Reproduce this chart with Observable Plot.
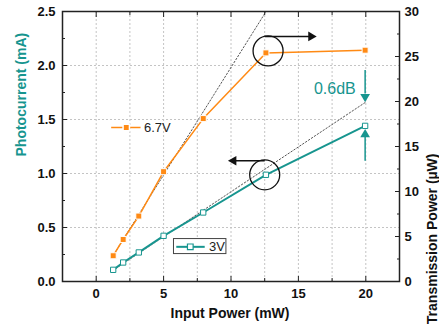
<!DOCTYPE html>
<html>
<head>
<meta charset="utf-8">
<script src="https://cdn.jsdelivr.net/npm/d3@7"></script>
<script src="https://cdn.jsdelivr.net/npm/@observablehq/plot@0.6"></script>
<style>
  html, body { margin: 0; padding: 0; background: #fff; }
  #chart { width: 439px; height: 331px; }
</style>
</head>
<body>
<div id="chart"></div>
<script>
// ---- data ----
const inputPower = [1.26, 2.0, 3.16, 5.0, 7.94, 12.59, 19.95];          // mW
const photocurrent3V = [0.108, 0.176, 0.269, 0.423, 0.639, 0.988, 1.441]; // mA (left axis)
const transmission67V = [2.86, 4.67, 7.27, 12.2, 18.1, 25.4, 25.7];       // µW (right axis)

// dotted linear-fit guides (end points)
const fit3V_x = [1.26, 19.95];
const fit3V_mA = [0.105, 1.657];
const fit67V_x = [1.26, 12.6];
const fit67V_uW = [2.9, 30];

// axes
const xMajor = [0, 5, 10, 15, 20];
const xMinor = [2.5, 7.5, 12.5, 17.5];
const xGrid = [0, 2.5, 5, 7.5, 10, 12.5, 15, 17.5, 20];
const yLeftMajor = [0, 0.5, 1.0, 1.5, 2.0, 2.5];
const yLeftMinor = [0.25, 0.75, 1.25, 1.75, 2.25];
const yGrid = [0.5, 1.0, 1.5, 2.0];
const yRightMajor = [0, 5, 10, 15, 20, 25, 30];
const yRightMinor = [2.5, 7.5, 12.5, 17.5, 22.5, 27.5];
const uWperMA = 12; // 30 µW on the right axis ↔ 2.5 mA on the left axis

// annotations
const circles = [{x: 12.75, y: 2.135}, {x: 12.5, y: 0.988}];
const arrowLines = [
  {x1: 12.5, y1: 2.269, x2: 15.8, y2: 2.269, c: "black"},
  {x1: 12.5, y1: 1.118, x2: 10.3, y2: 1.118, c: "black"},
  {x1: 19.95, y1: 1.958, x2: 19.95, y2: 1.74, c: "teal"},
  {x1: 19.95, y1: 1.118, x2: 19.95, y2: 1.34, c: "teal"}
];
const arrowHeads = [
  {x: 15.94, y: 2.269, rot: 90, c: "black"},
  {x: 10.19, y: 1.118, rot: -90, c: "black"},
  {x: 19.95, y: 1.711, rot: 180, c: "teal"},
  {x: 19.95, y: 1.361, rot: 0, c: "teal"}
];
const dbLabel = [{x: 17.7, y: 1.781, text: "0.6dB"}];
const legend67 = {x1: 1.11, x2: 3.29, xm: 2.23, y: 1.426, tx: 3.54, text: "6.7V"};
const legend3 = {x1: 5.94, x2: 8.05, xm: 6.98, y: 0.321, tx: 8.37, text: "3V",
                 bx1: 5.77, bx2: 9.66, by1: 0.254, by2: 0.393};

const ORANGE = "#ff8a14";
const TEAL = "#17958f";
const colorOf = c => c === "teal" ? TEAL : "#111";

const s67 = inputPower.map((x, i) => ({x, uW: transmission67V[i]}));
const s3 = inputPower.map((x, i) => ({x, mA: photocurrent3V[i]}));
const f3 = fit3V_x.map((x, i) => ({x, mA: fit3V_mA[i]}));
const f67 = fit67V_x.map((x, i) => ({x, uW: fit67V_uW[i]}));

const bold = {fontSize: 13, fontWeight: "bold", fill: "#111"};

const chart = Plot.plot({
  width: 439,
  height: 331,
  marginLeft: 62,
  marginRight: 40,
  marginTop: 11,
  marginBottom: 50,
  x: {domain: [-2.5, 22.5]},
  y: {domain: [0, 2.5]},
  style: {fontFamily: "'Liberation Sans', Arial, sans-serif", background: "white", color: "#111"},
  marks: [
    Plot.gridX(xGrid, {stroke: "#c4c4c4", strokeOpacity: 1, strokeDasharray: "2,2"}),
    Plot.gridY(yGrid, {stroke: "#c4c4c4", strokeOpacity: 1, strokeDasharray: "2,2"}),

    // fit guides
    Plot.line(f3, {x: "x", y: "mA", stroke: "#555", strokeDasharray: "1.5,2", strokeWidth: 1}),
    Plot.line(f67, {x: "x", y: d => d.uW / uWperMA, stroke: "#555", strokeDasharray: "1.5,2", strokeWidth: 1}),

    // series
    Plot.line(s67, {x: "x", y: d => d.uW / uWperMA, stroke: ORANGE, strokeWidth: 1.5}),
    Plot.line(s3, {x: "x", y: "mA", stroke: TEAL, strokeWidth: 2}),
    Plot.dot(s67, {x: "x", y: d => d.uW / uWperMA, symbol: "square", r: 3.4, fill: ORANGE, stroke: "white", strokeWidth: 1}),
    Plot.dot(s3, {x: "x", y: "mA", symbol: "square", r: 3, fill: "white", stroke: TEAL, strokeWidth: 1}),

    // circles and arrows
    Plot.dot(circles, {x: "x", y: "y", r: 15, fill: "none", stroke: "#111", strokeWidth: 1.3}),
    Plot.link(arrowLines, {x1: "x1", y1: "y1", x2: "x2", y2: "y2", stroke: d => colorOf(d.c), strokeWidth: 1.5}),
    Plot.dot(arrowHeads, {x: "x", y: "y", symbol: "triangle", r: 3.6, rotate: "rot", fill: d => colorOf(d.c), stroke: "none"}),
    Plot.text(dbLabel, {x: "x", y: "y", text: "text", fill: TEAL, fontSize: 16}),

    // legend 6.7V
    Plot.link([legend67], {x1: "x1", x2: "x2", y1: "y", y2: "y", stroke: ORANGE, strokeWidth: 1.5}),
    Plot.dot([legend67], {x: "xm", y: "y", symbol: "square", r: 3.6, fill: ORANGE, stroke: "white", strokeWidth: 1.5}),
    Plot.text([legend67], {x: "tx", y: "y", text: "text", textAnchor: "start", fontSize: 13, fill: "#222"}),

    // legend 3V
    Plot.rect([legend3], {x1: "bx1", x2: "bx2", y1: "by1", y2: "by2", fill: "white", stroke: "#444", strokeWidth: 1}),
    Plot.link([legend3], {x1: "x1", x2: "x2", y1: "y", y2: "y", stroke: TEAL, strokeWidth: 2}),
    Plot.dot([legend3], {x: "xm", y: "y", symbol: "square", r: 3.2, fill: "white", stroke: TEAL, strokeWidth: 1.2}),
    Plot.text([legend3], {x: "tx", y: "y", text: "text", textAnchor: "start", fontSize: 13, fill: "#222"}),

    // frame
    Plot.frame({stroke: "#222", strokeWidth: 1.5}),

    // inward ticks
    Plot.axisX(xMajor, {anchor: "bottom", tickSize: -5, fill: "none", label: null, stroke: "#222"}),
    Plot.axisX(xMinor, {anchor: "bottom", tickSize: -3, fill: "none", label: null, stroke: "#222"}),
    Plot.axisX(xMajor, {anchor: "top", tickSize: -5, fill: "none", label: null, stroke: "#222"}),
    Plot.axisX(xMinor, {anchor: "top", tickSize: -3, fill: "none", label: null, stroke: "#222"}),
    Plot.axisY(yLeftMajor, {anchor: "left", tickSize: -5, fill: "none", label: null, stroke: "#222"}),
    Plot.axisY(yLeftMinor, {anchor: "left", tickSize: -3, fill: "none", label: null, stroke: "#222"}),
    Plot.axisY(yRightMajor.map(v => v / uWperMA), {anchor: "right", tickSize: -5, fill: "none", label: null, stroke: "#222"}),
    Plot.axisY(yRightMinor.map(v => v / uWperMA), {anchor: "right", tickSize: -3, fill: "none", label: null, stroke: "#222"}),

    // tick labels
    Plot.axisX(xMajor, {anchor: "bottom", tickSize: 0, tickPadding: 7, label: null, ...bold}),
    Plot.axisY(yLeftMajor, {anchor: "left", tickSize: 0, tickPadding: 7, label: null, tickFormat: d => d.toFixed(1), ...bold}),
    Plot.axisY(yRightMajor.map(v => v / uWperMA), {anchor: "right", tickSize: 0, tickPadding: 5, label: null,
      tickFormat: d => String(Math.round(d * uWperMA)), ...bold}),

    // axis titles
    Plot.text(["Input Power (mW)"], {frameAnchor: "bottom", dy: 36, dx: -1, fontSize: 14, fontWeight: "bold", fill: "#111"}),
    Plot.text(["Photocurrent (mA)"], {frameAnchor: "left", dx: -41, dy: 10, rotate: -90, fontSize: 14, fontWeight: "bold", fill: TEAL}),
    Plot.text(["Transmission Power (µW)"], {frameAnchor: "right", dx: 33, dy: 7, rotate: -90, fontSize: 14, fontWeight: "bold", fill: "#111"})
  ]
});
document.getElementById("chart").appendChild(chart);
</script>
</body>
</html>
